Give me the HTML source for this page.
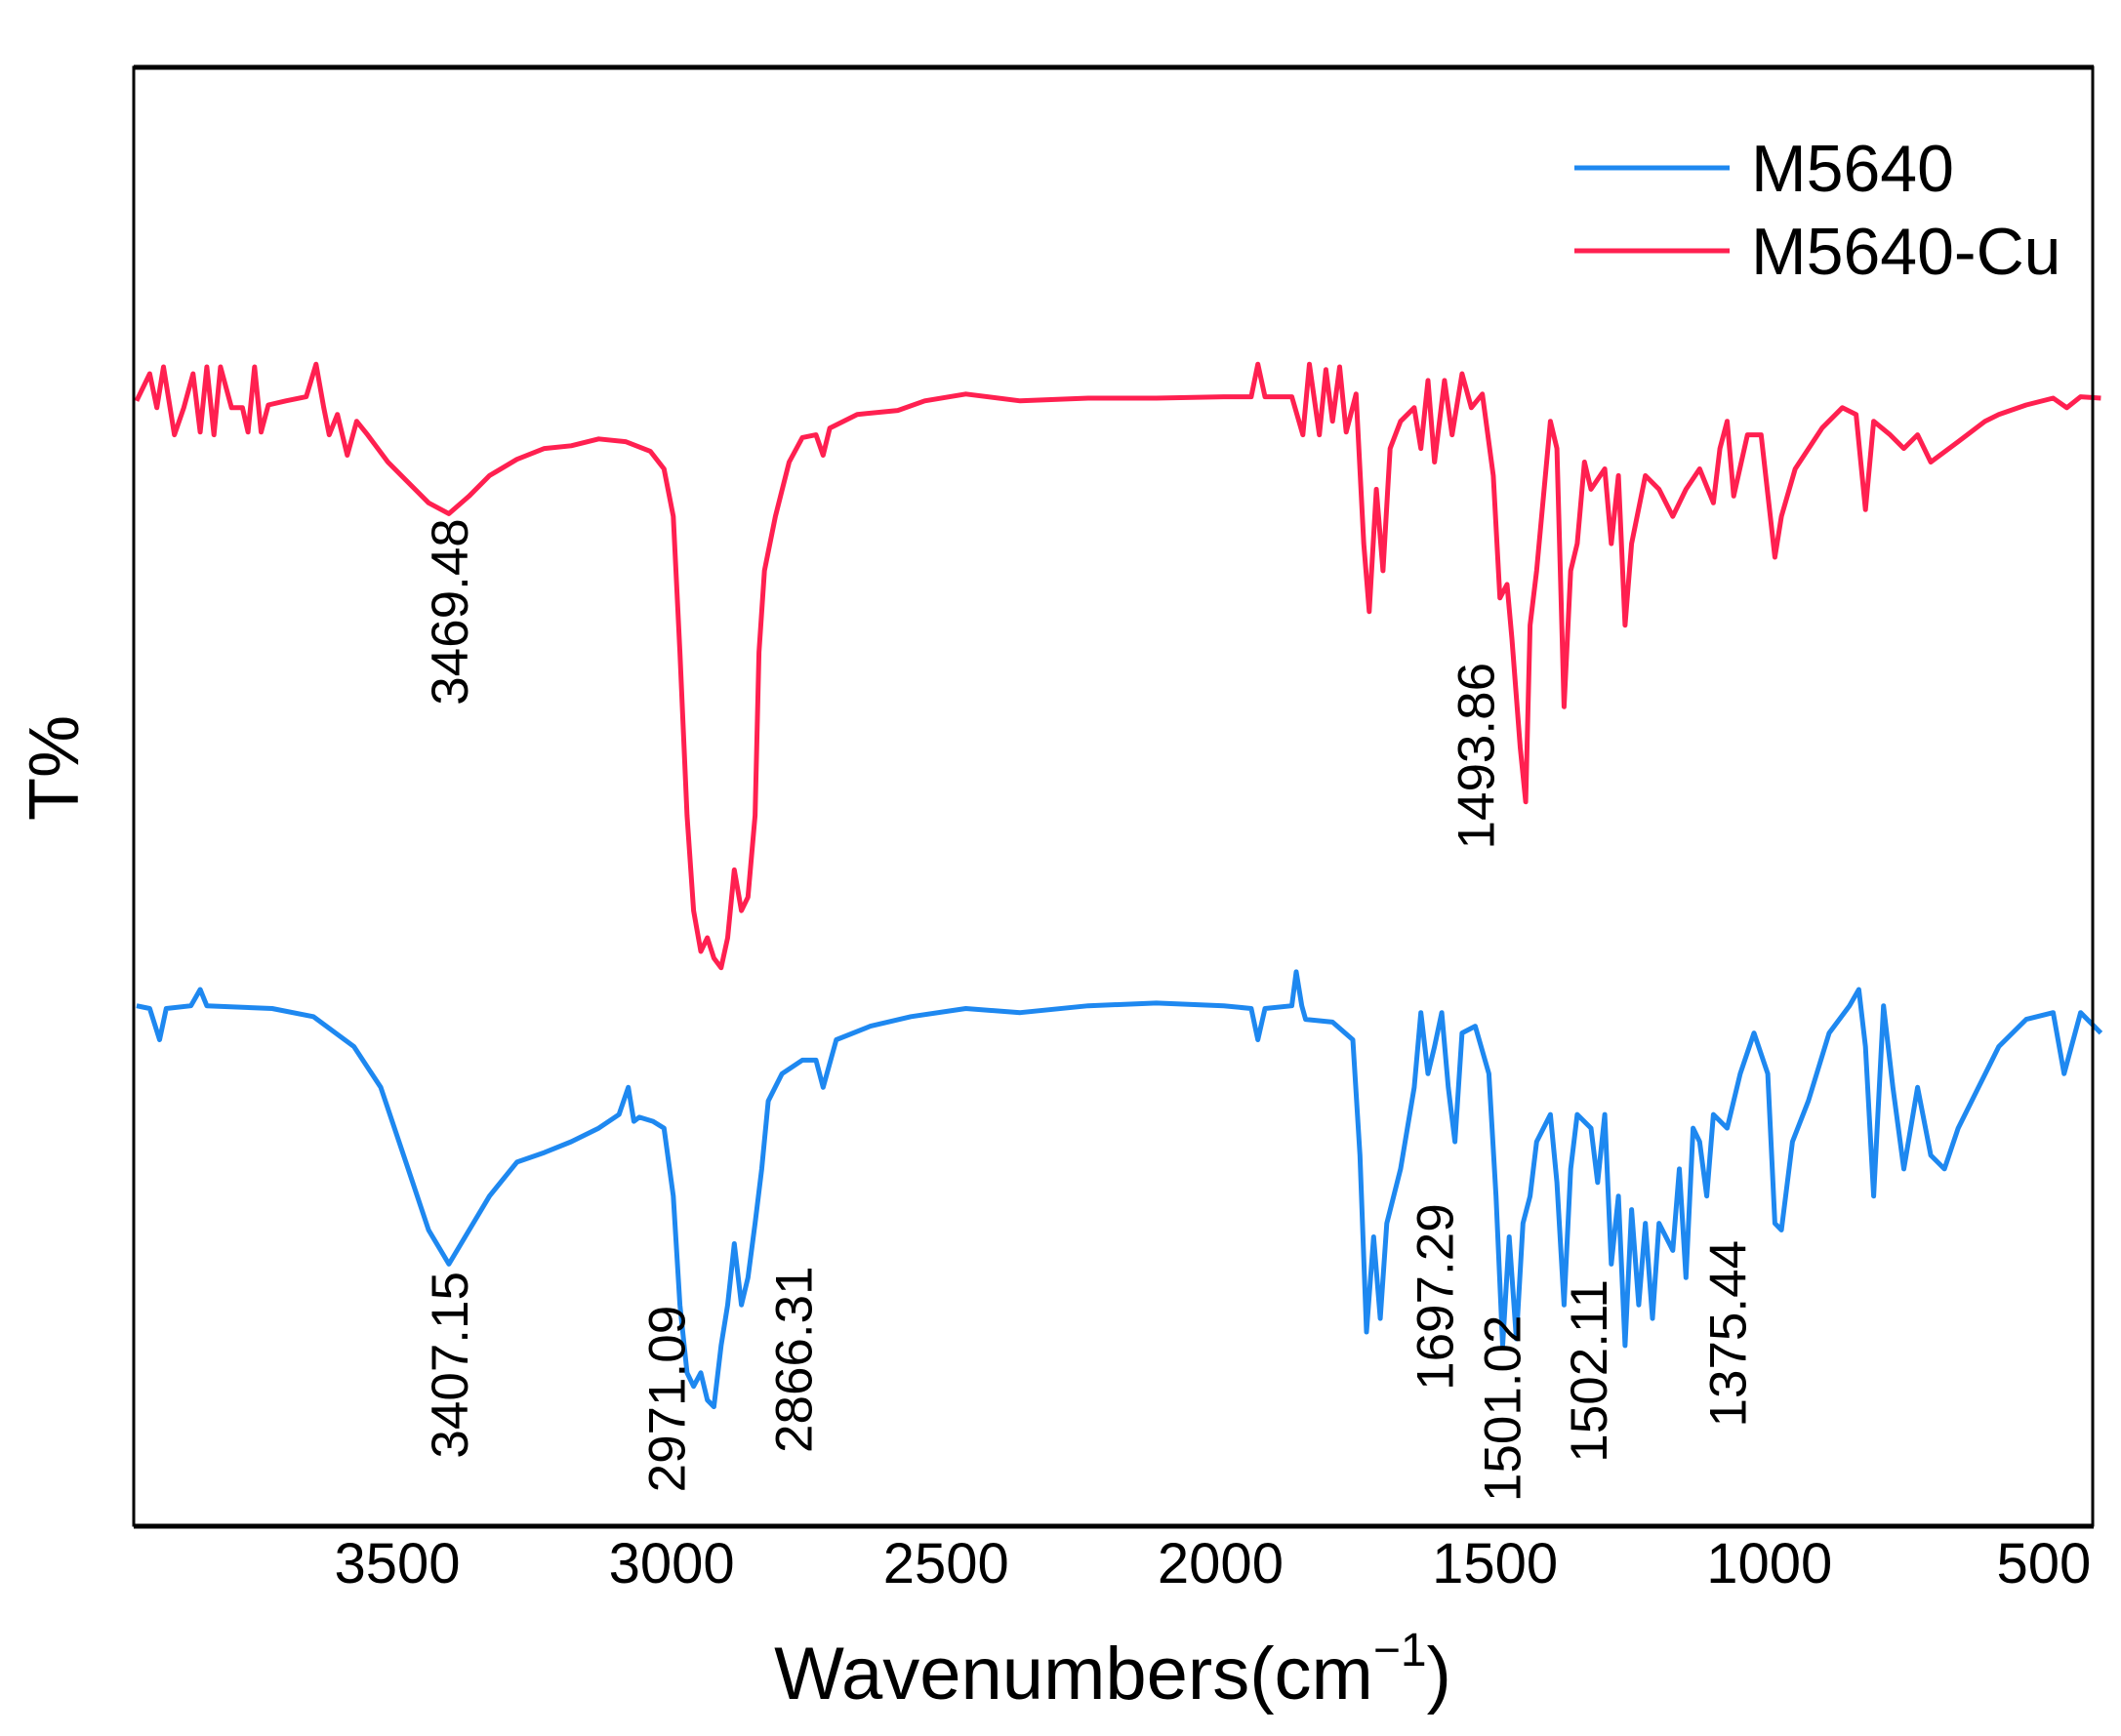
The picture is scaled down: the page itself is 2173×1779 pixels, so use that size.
<!DOCTYPE html>
<html><head><meta charset="utf-8"><style>
html,body{margin:0;padding:0;background:#fff}
svg{display:block;font-family:"Liberation Sans",Arial,sans-serif}
</style></head><body>
<svg id="chart" width="2173" height="1779" viewBox="0 0 2173 1779" xmlns="http://www.w3.org/2000/svg">
<g id="marks"></g>
<rect x="137" y="69" width="2007" height="1494" fill="none" stroke="#000" stroke-width="3"/>
<line x1="137" y1="1564" x2="2145" y2="1564" stroke="#000" stroke-width="5"/>
<line x1="137" y1="69" x2="2145" y2="69" stroke="#000" stroke-width="5"/>
<g id="ticks"></g>
<text x="1140" y="1741" font-size="76" text-anchor="middle">Wavenumbers(cm<tspan dy="-34" font-size="48">−1</tspan><tspan dy="34">)</tspan></text>
<text transform="translate(80,787) rotate(-90)" font-size="72" text-anchor="middle">T%</text>
<g>
<line x1="1613" y1="172" x2="1772" y2="172" stroke="#1e88f0" stroke-width="5"/>
<text x="1794" y="196" font-size="68">M5640</text>
<line x1="1613" y1="257" x2="1772" y2="257" stroke="#ff2050" stroke-width="5"/>
<text x="1794" y="281" font-size="68">M5640-Cu</text>
</g>
<g id="annots"></g>
</svg>
<script>
const xTicks=[3500,3000,2500,2000,1500,1000,500];
const redW=[3975,3951,3938,3926,3906,3889,3872,3859,3847,3834,3822,3802,3782,3772,3760,3748,3735,3703,3666,3648,3634,3624,3609,3591,3574,3554,3517,3480,3443,3406,3369,3332,3282,3232,3183,3133,3084,3039,3014,2997,2985,2972,2960,2947,2935,2923,2910,2898,2886,2873,2861,2848,2841,2831,2811,2786,2762,2737,2724,2712,2662,2588,2539,2464,2365,2241,2117,1994,1944,1932,1919,1870,1850,1838,1820,1808,1796,1783,1771,1753,1739,1729,1716,1704,1691,1672,1647,1635,1622,1610,1592,1578,1560,1543,1523,1503,1491,1478,1469,1454,1444,1436,1424,1399,1387,1374,1362,1350,1337,1325,1300,1288,1275,1263,1251,1226,1201,1176,1152,1127,1102,1090,1077,1065,1040,1015,990,978,953,904,867,842,825,810,780,755,730,706,656,607,582,532,483,458,433,396];
const redT=[830,850,825,855,805,825,850,807,855,805,855,825,825,807,855,807,827,830,833,857,825,805,820,790,815,805,785,770,755,747,760,775,787,795,797,802,800,793,780,745,645,525,455,425,435,420,413,435,485,455,465,525,645,705,745,785,803,805,790,810,820,823,830,835,830,832,832,833,833,857,833,833,805,857,805,853,815,855,807,835,725,675,765,705,795,815,825,795,845,785,845,805,850,825,835,775,685,695,655,575,535,665,705,815,795,605,705,725,785,765,780,725,775,665,725,775,765,745,765,780,755,795,815,760,805,805,715,745,780,810,825,820,750,815,805,795,805,785,800,815,820,827,832,825,833,832];
const blueW=[3975,3951,3933,3921,3876,3859,3847,3728,3653,3579,3530,3480,3443,3406,3369,3332,3282,3232,3183,3133,3096,3079,3069,3059,3034,3014,2997,2985,2972,2960,2947,2935,2923,2910,2898,2886,2873,2861,2848,2836,2824,2799,2762,2737,2724,2700,2638,2564,2464,2365,2241,2117,1994,1944,1932,1919,1870,1862,1852,1845,1796,1759,1746,1734,1721,1709,1697,1672,1647,1635,1622,1610,1597,1585,1573,1560,1536,1511,1498,1486,1474,1461,1449,1436,1424,1399,1387,1374,1362,1350,1325,1313,1300,1288,1275,1263,1251,1238,1226,1213,1201,1176,1164,1152,1139,1127,1114,1102,1077,1053,1028,1003,990,978,958,929,891,854,837,825,810,792,775,755,730,706,681,656,619,582,532,483,463,433,396];
const blueT=[385,383,360,383,385,397,385,383,377,355,325,265,220,195,220,245,270,277,285,295,305,325,300,303,300,295,245,165,115,105,115,95,90,135,165,210,165,185,225,265,315,335,345,345,325,360,370,377,383,380,385,387,385,383,360,383,385,410,385,375,373,360,275,145,215,155,225,265,325,380,335,355,380,325,285,365,370,335,245,135,215,140,225,245,285,305,255,165,265,305,295,255,305,195,245,135,235,165,225,155,225,205,265,185,295,285,245,305,295,335,365,335,225,220,285,315,365,385,397,355,245,385,325,265,325,275,265,295,325,355,375,380,335,380,365];
const annotLabels=["3469.48","1493.86","3407.15","2971.09","2866.31","1697.29","1501.02","1502.11","1375.44"];
const annotW=[3406,1536,3406,3010,2779,1610,1488,1330,1077];
const annotBottomT=[606,500,52,27,56,102,20,49,75];

const X=w=>407+(3500-w)*0.5623;
const Y=t=>1567-t*1.393;
const NS="http://www.w3.org/2000/svg";
const marks=document.getElementById('marks');
function series(ws,ts,color,name){
  const p=document.createElementNS(NS,'path');
  
  
  p.setAttribute('d',ws.map((w,i)=>(i?'L':'M')+X(w).toFixed(1)+' '+Y(ts[i]).toFixed(1)).join(''));
  p.setAttribute('fill','none');p.setAttribute('stroke',color);
  p.setAttribute('stroke-width','5');p.setAttribute('stroke-linejoin','round');
  marks.appendChild(p);
}
series(redW,redT,'#ff2050','series-m5640-cu');
series(blueW,blueT,'#1e88f0','series-m5640');
const tg=document.getElementById('ticks');
xTicks.forEach(v=>{
  const t=document.createElementNS(NS,'text');
  
  
  t.setAttribute('x',X(v));t.setAttribute('y',1622);
  t.setAttribute('font-size','58');t.setAttribute('text-anchor','middle');
  t.textContent=v;tg.appendChild(t);
});
const ag=document.getElementById('annots');
annotLabels.forEach((s,i)=>{
  const t=document.createElementNS(NS,'text');
  
  
  const x=X(annotW[i])+19, y=Y(annotBottomT[i]);
  t.setAttribute('transform','translate('+x.toFixed(1)+','+y.toFixed(1)+') rotate(-90)');
  t.setAttribute('font-size','53');
  t.textContent=s;ag.appendChild(t);
});
</script>
</body></html>
